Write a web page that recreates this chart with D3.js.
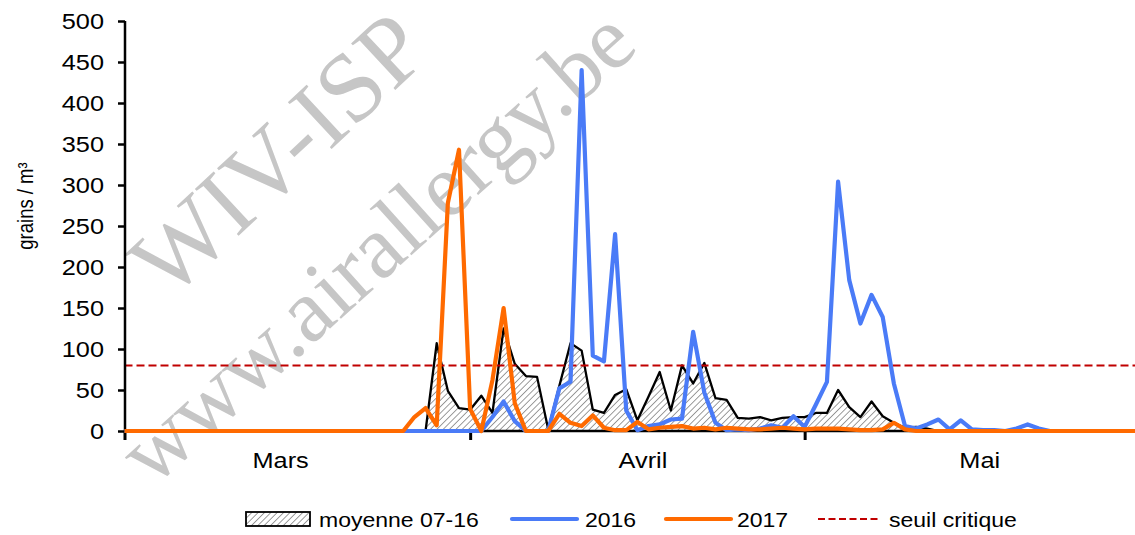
<!DOCTYPE html>
<html><head><meta charset="utf-8">
<script src="https://cdn.jsdelivr.net/npm/d3@7"></script>
<style>
html,body{margin:0;padding:0;background:#fff;}
svg{display:block;font-family:"Liberation Sans",Arial,sans-serif;}
</style></head>
<body>
<svg id="c" width="1135" height="535"></svg>
<script>
// ---- data (day index 0 = 1 March ... 91 = 31 May) ----
const moyenne = [0,0,0,0,0,0,0,0,0,0,0,0,0,0,0,0,0,0,0,0,0,0,0,0,0,0,0,
  0,107,49,28,26,43,22,125,82,67,66,2,55,107,98,26,22,44,51,13,42,72,25,80,58,83,40,38,16,15,17,13,16,17,17,22,22,50,29,17,36,18,10,4,5,3,
  0,0,0,0,0,0,0,0,0,0,0,0,0,0,0,0,0,0,0];
const y2016 = [0,0,0,0,0,0,0,0,0,0,0,0,0,0,0,0,0,0,0,0,0,0,0,0,0,0,0,0,0,0,0,0,0,
  17,36,12,0,0,0,52,60,440,92,85,240,25,1,6,8,14,15,121,47,10,1,2,1,3,7,4,18,5,32,60,304,184,131,166,139,58,6,3,8,14,2,13,2,1,1,0,3,8,3,
  0,0,0,0,0,0,0,0,0];
const y2017 = [0,0,0,0,0,0,0,0,0,0,0,0,0,0,0,0,0,0,0,0,0,0,0,0,0,0,
  17,28,7,278,343,27,0,62,150,34,0,0,0,21,10,6,19,4,1,1,11,2,4,5,6,3,4,2,4,3,2,2,3,4,3,2,3,3,3,2,1,1,2,10,2,
  0,0,0,0,0,0,0,0,0,0,0,0,0,0,0,0,0,0,0,0,0];
const seuil = 80;
const yTicks = [0,50,100,150,200,250,300,350,400,450,500];
const monthNames = ["Mars","Avril","Mai"];
const monthStarts = [0,31,61,92];
const monthLabelDays = [14,46.5,76.7];
const legendLabels = ["moyenne 07-16","2016","2017","seuil critique"];

const svg = d3.select("#c");
const STRETCH = 1.15;
function stretch(sel){
  sel.each(function(){
    const l = this.getComputedTextLength();
    this.setAttribute("textLength", l*STRETCH);
    this.setAttribute("lengthAdjust","spacingAndGlyphs");
  });
}

const x = d3.scaleLinear().domain([0,92]).range([124.5, 124.5+92*11.15]);
const y = d3.scaleLinear().domain([0,500]).range([431,21]);

// hatch pattern
const defs = svg.append("defs");
const pat = defs.append("pattern").attr("id","hatch").attr("patternUnits","userSpaceOnUse")
  .attr("width",4.5).attr("height",4.5).attr("patternTransform","rotate(45)");
pat.append("rect").attr("width",4.5).attr("height",4.5).attr("fill","#fff");
pat.append("line").attr("x1",0).attr("y1",0).attr("x2",0).attr("y2",4.5)
  .attr("stroke","#5a5a5a").attr("stroke-width",1.2);

// watermark
const wm = svg.append("g").attr("fill","#c6c6c6").attr("font-family","'Liberation Serif','Times New Roman',serif");
wm.append("text").attr("transform","translate(278,154) rotate(-43)").attr("text-anchor","middle")
  .attr("dominant-baseline","central").attr("font-size",98).text("WIV-ISP");
wm.append("text").attr("transform","translate(376,246) rotate(-42)").attr("text-anchor","middle")
  .attr("dominant-baseline","central").attr("font-size",90).text("www.airallergy.be");

const idx = d3.range(92);

// area moyenne
svg.append("path").datum(idx)
  .attr("fill","url(#hatch)")
  .attr("d", d3.area().x(i=>x(i)).y0(y(0)).y1(i=>y(moyenne[i])));
svg.append("path").datum(idx)
  .attr("fill","none").attr("stroke","#000").attr("stroke-width",2.3).attr("stroke-linejoin","round")
  .attr("d", d3.line().x(i=>x(i)).y(i=>y(moyenne[i])));

// seuil
svg.append("line").attr("x1",x(0)).attr("x2",x(92)).attr("y1",y(seuil)).attr("y2",y(seuil))
  .attr("stroke","#c00000").attr("stroke-width",2).attr("stroke-dasharray","8,4");

// axes
const yAxis = svg.append("g").attr("transform","translate(125,0)")
  .call(d3.axisLeft(y).tickValues(yTicks).tickSize(7).tickPadding(14));
yAxis.select(".domain").attr("stroke","#000").attr("stroke-width",2.5).attr("d","M0,21V431");
yAxis.selectAll(".tick line").attr("stroke","#000").attr("stroke-width",2.5);
yAxis.selectAll(".tick text").attr("font-size",22).attr("fill","#000")
  .attr("font-family","'Liberation Sans',Arial,sans-serif");
stretch(yAxis.selectAll(".tick text"));

const xAxis = svg.append("g").attr("transform","translate(0,431)")
  .call(d3.axisBottom(x).tickValues(monthStarts).tickSize(9).tickFormat(""));
xAxis.select(".domain").attr("stroke","#000").attr("stroke-width",2.5).attr("d","M124,0H1135");
xAxis.selectAll(".tick line").attr("stroke","#000").attr("stroke-width",3);

// lines
const line = arr => d3.line().x(i=>x(i)).y(i=>y(arr[i])).curve(d3.curveLinear);
svg.append("path").datum(idx).attr("fill","none").attr("stroke","#4a7bf7").attr("stroke-width",4.2)
  .attr("stroke-linejoin","round").attr("d", line(y2016));
svg.append("path").datum(idx).attr("fill","none").attr("stroke","#ff6a00").attr("stroke-width",4.2)
  .attr("stroke-linejoin","round").attr("d", line(y2017));

// month labels
const ml = svg.append("g").selectAll("text").data(monthNames).join("text")
  .attr("x",(d,i)=>x(monthLabelDays[i])).attr("y",468).attr("text-anchor","middle")
  .attr("font-size",22).attr("fill","#000").text(d=>d);
stretch(ml);

// y label
svg.append("text").attr("transform","translate(33,206) rotate(-90) scale(1,1.15)").attr("text-anchor","middle")
  .attr("font-size",18.5).attr("fill","#000").text("grains / m³");

// legend
const lg = svg.append("g");
lg.append("rect").attr("x",246).attr("y",512).attr("width",64).attr("height",14)
  .attr("fill","url(#hatch)").attr("stroke","#000").attr("stroke-width",1.8);
lg.append("line").attr("x1",512).attr("x2",577).attr("y1",519).attr("y2",519)
  .attr("stroke","#4a7bf7").attr("stroke-width",4.2).attr("stroke-linecap","round");
lg.append("line").attr("x1",666).attr("x2",731).attr("y1",519).attr("y2",519)
  .attr("stroke","#ff6a00").attr("stroke-width",4.2).attr("stroke-linecap","round");
lg.append("line").attr("x1",818).attr("x2",881).attr("y1",519).attr("y2",519)
  .attr("stroke","#c00000").attr("stroke-width",2).attr("stroke-dasharray","7,3.5");
const lx = [319,585,737,889];
const lt = lg.selectAll("text.l").data(legendLabels).join("text").attr("class","l")
  .attr("x",(d,i)=>lx[i]).attr("y",527).attr("font-size",20).attr("fill","#000").text(d=>d);
stretch(lt);
</script>
</body></html>
